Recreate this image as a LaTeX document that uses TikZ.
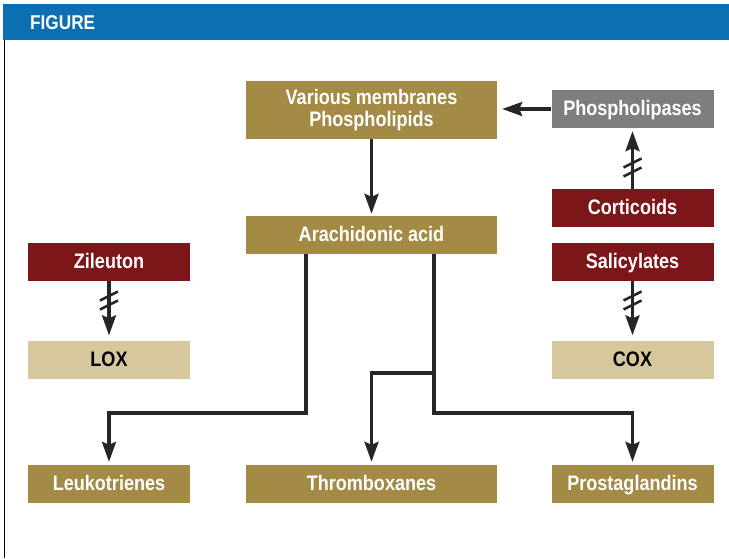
\documentclass[tikz,border=0pt]{standalone}
\usepackage{fontspec}
\setmainfont{Liberation Sans}[FakeStretch=0.86]
\usetikzlibrary{arrows.meta}
\definecolor{figblue}{HTML}{0B6FB1}
\definecolor{olive}{HTML}{A38B45}
\definecolor{darkred}{HTML}{7C1618}
\definecolor{lighttan}{HTML}{D6C79C}
\definecolor{slate}{HTML}{7E7E7E}
\tikzset{>={Stealth[length=20pt,width=14pt,inset=3pt]}}

\begin{document}
\begin{tikzpicture}[x=1pt,y=-1pt,
    box/.style={minimum height=38pt,inner sep=0pt,text=white,
                text height=14pt,text depth=1pt,
                font=\bfseries\fontsize{21}{21}\selectfont},
    narrowbox/.style={box,minimum width=162pt},
    widebox/.style={box,minimum width=251pt},
    conn/.style={line width=3.2pt,black!85}]
  \useasboundingbox (0,0) rectangle (729,558);
  % header
  \fill[figblue] (3,4) rectangle (729,40);
  \node[anchor=west,inner sep=0pt,text=white,font=\bfseries\fontsize{20}{20}\selectfont] (fig) at (30,23) {FIGURE};
  \draw[line width=1pt] (4,40) -- (4,558);

  % boxes
  \node[widebox,fill=olive,minimum height=58pt,align=center,text height=,text depth=,
        font=\bfseries\fontsize{21}{22}\selectfont] (membr) at (371.5,110) {Various membranes\\Phospholipids};
  \node[narrowbox,fill=slate]    (lipase) at (632.5,109) {Phospholipases};
  \node[widebox,fill=olive]      (acid)   at (371.5,235) {Arachidonic acid};
  \node[narrowbox,fill=darkred]  (zileu)  at (109,261.5) {Zileuton};
  \node[narrowbox,fill=lighttan,text=black] (lox) at (109,359.5) {LOX};
  \node[narrowbox,fill=darkred]  (cortic) at (632.5,208) {Corticoids};
  \node[narrowbox,fill=darkred]  (salic)  at (632.5,261.5) {Salicylates};
  \node[narrowbox,fill=lighttan,text=black] (cox) at (632.5,359.5) {COX};
  \node[narrowbox,fill=olive]    (leuko)  at (109,484) {Leukotrienes};
  \node[widebox,fill=olive]      (thromb) at (371.5,484) {Thromboxanes};
  \node[narrowbox,fill=olive]    (prosta) at (632.5,484) {Prostaglandins};

  % arrows
  \draw[conn,->,shorten >=5pt] (lipase) -- (membr.east |- lipase);
  \draw[conn,->,shorten >=2pt] (membr) -- (acid);
  \draw[conn,->,shorten >=5pt] (zileu) -- (lox);
  \draw[conn,->,shorten >=5pt] (salic) -- (cox);
  \draw[conn,->,shorten >=3pt] (cortic) -- (lipase);

  % blocked marks
  \foreach \c/\y in {zileu/296, zileu/305, salic/296, salic/305, cortic/163, cortic/172} {
    \path (\c.south |- 0,\y) coordinate (s);
    \draw[conn,line width=2.6pt] ([shift={(-9,4.5)}]s) -- ++(18,-9);
  }

  % branches
  \coordinate (jl) at (306,413);
  \coordinate (jr) at (434,413);
  \coordinate (jt) at (434,373);
  \draw[conn,->,shorten >=3pt] (acid.south -| jl) -- (jl) -| (leuko.north);
  \draw[conn,->,shorten >=3pt] (acid.south -| jr) -- (jr) -| (prosta.north);
  \draw[conn,->,shorten >=3pt] (jt) -| (thromb.north);
\end{tikzpicture}
\end{document}
